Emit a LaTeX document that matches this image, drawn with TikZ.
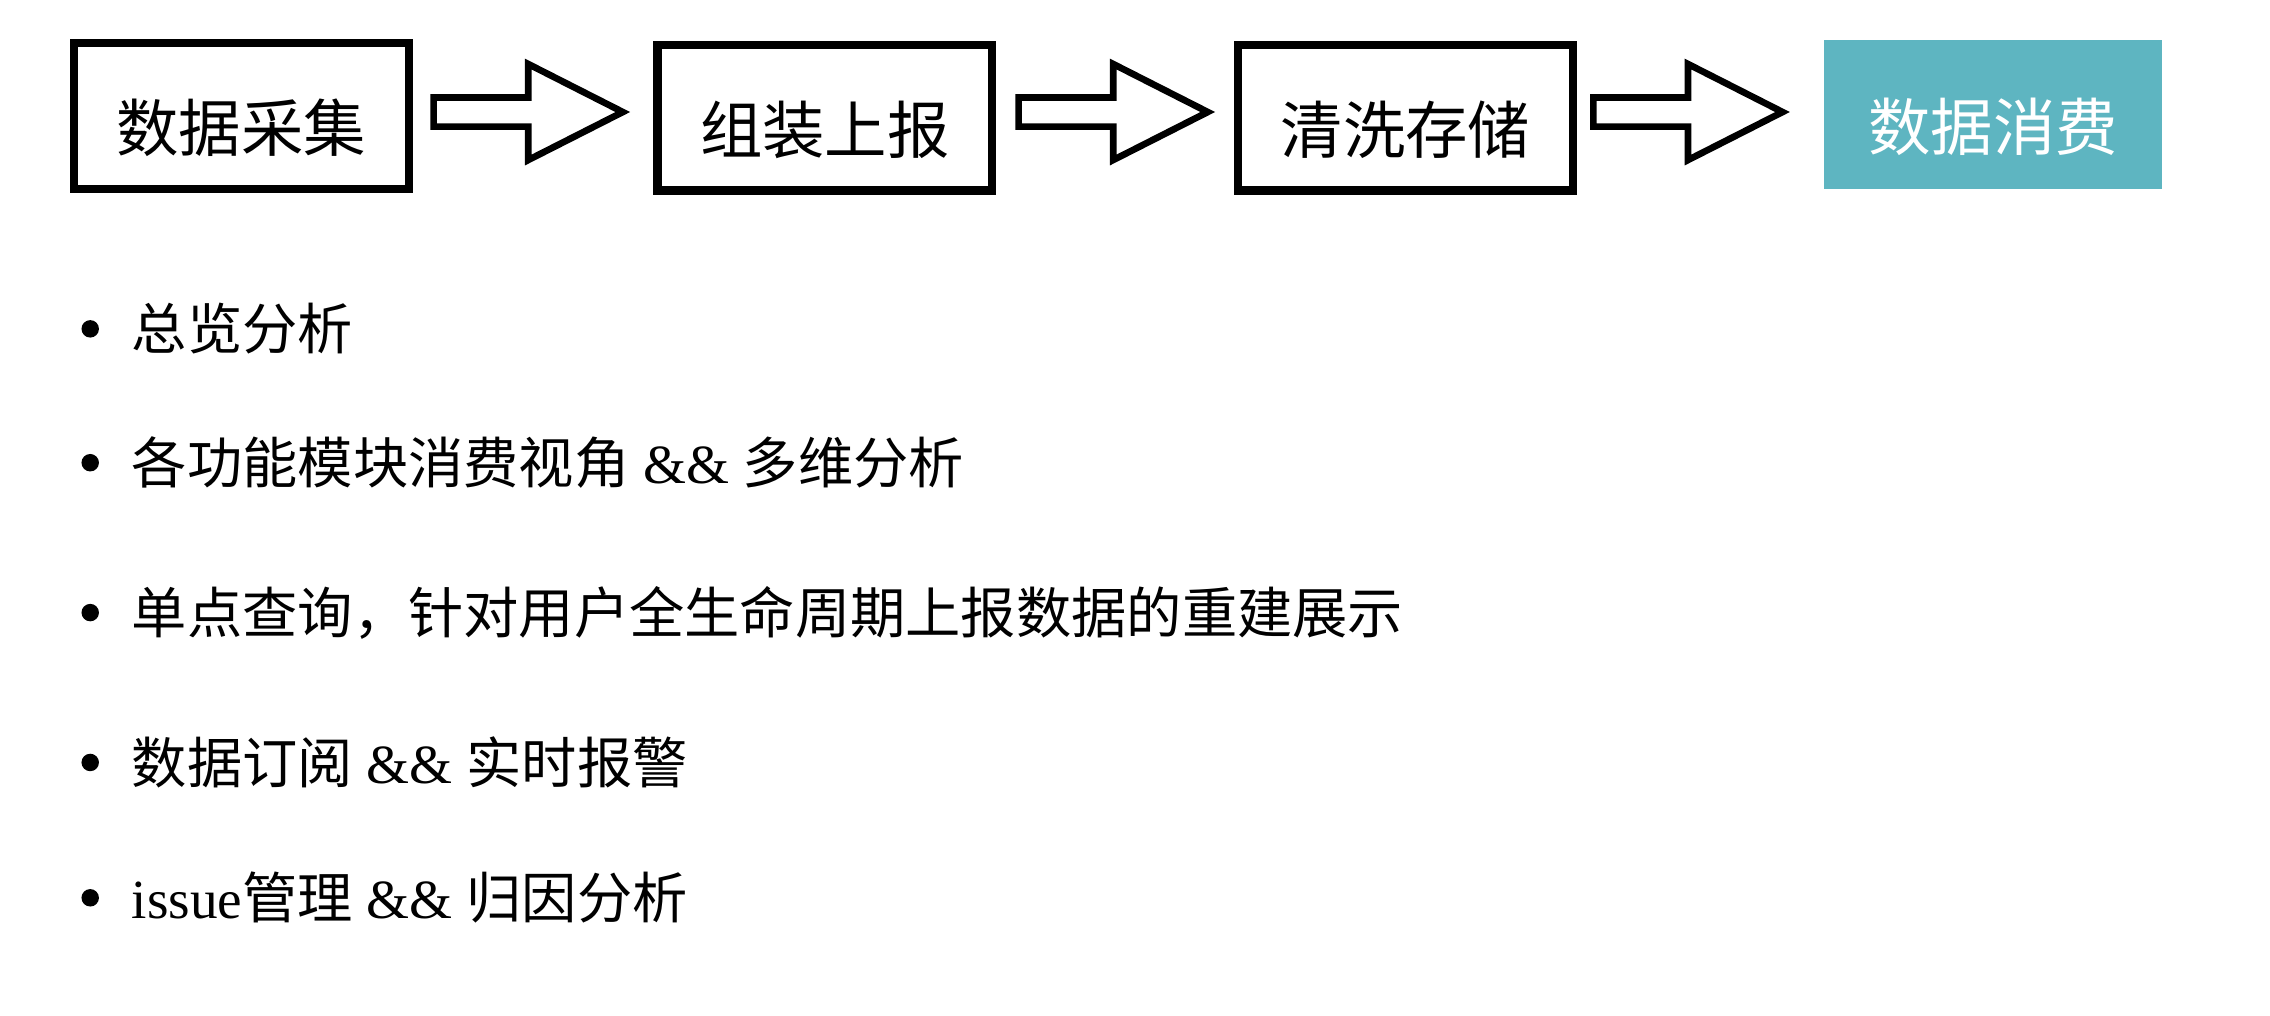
\documentclass[tikz,border=0pt]{standalone}
\usepackage{fontspec}
\setmainfont{Liberation Serif}
\newfontfamily\cjk{Noto Sans CJK SC}
\tikzset{%
  stepbox/.style  = {draw, line width=1.6pt, minimum width=2.3cm, minimum height=1.0cm,%
                     text depth=0.12cm, anchor=north west},%
  lastbox/.style  = {fill=teal4, text=white, minimum width=2.32cm, minimum height=1.02cm,%
                     text depth=0.12cm, anchor=north west},%
  boxtext/.style  = {font=\cjk\fontsize{12.2}{14}\selectfont},%
  fatarrow/.style = {draw, line width=1.3pt, fill=white, line join=miter},%
  item/.style     = {anchor=west, inner sep=0pt, font=\fontsize{10.8}{13}\selectfont},%
  dot/.style      = {circle, fill=black, inner sep=0pt, minimum size=0.12cm}%
}
\definecolor{teal4}{HTML}{5EB5C1}
\newcommand{\cn}[1]{{\cjk #1}}
\begin{document}
\begin{tikzpicture}[x=0.01cm,y=-0.01cm]
  \useasboundingbox (0,0) rectangle (1560,698);
  % flow boxes
  \node[stepbox,boxtext] (collect) at (48,27)   {\raisebox{-0.25cm}{数据采集}};
  \node[stepbox,boxtext] (report)  at (449,28)  {\raisebox{-0.25cm}{组装上报}};
  \node[stepbox,boxtext] (clean)   at (848,28)  {\raisebox{-0.25cm}{清洗存储}};
  \node[lastbox,boxtext] (consume) at (1253,27) {\raisebox{-0.25cm}{数据消费}};
  % block arrows
  \foreach \a/\x in {a/298, b/700, c/1095} {
    \draw[fatarrow] (\x,67) -- ++(65,0) -- ++(0,-23) -- ++(65,33) -- ++(-65,33)
      -- ++(0,-23) -- ++(-65,0) -- cycle;
  }
  % bullet list
  \foreach \n/\y in {1/226, 2/318, 3/421, 4/524, 5/617}
    \node[dot] (dot\n) at (62,\y) {};
  \node[item] (i1) at (90,226) {\cn{总览分析}};
  \node[item] (i2) at (90,318) {\cn{各功能模块消费视角} \&\& \cn{多维分析}};
  \node[item] (i3) at (90,421) {\cn{单点查询，针对用户全生命周期上报数据的重建展示}};
  \node[item] (i4) at (90,524) {\cn{数据订阅} \&\& \cn{实时报警}};
  \node[item] (i5) at (90,617) {issue\cn{管理} \&\& \cn{归因分析}};
\end{tikzpicture}
\end{document}
